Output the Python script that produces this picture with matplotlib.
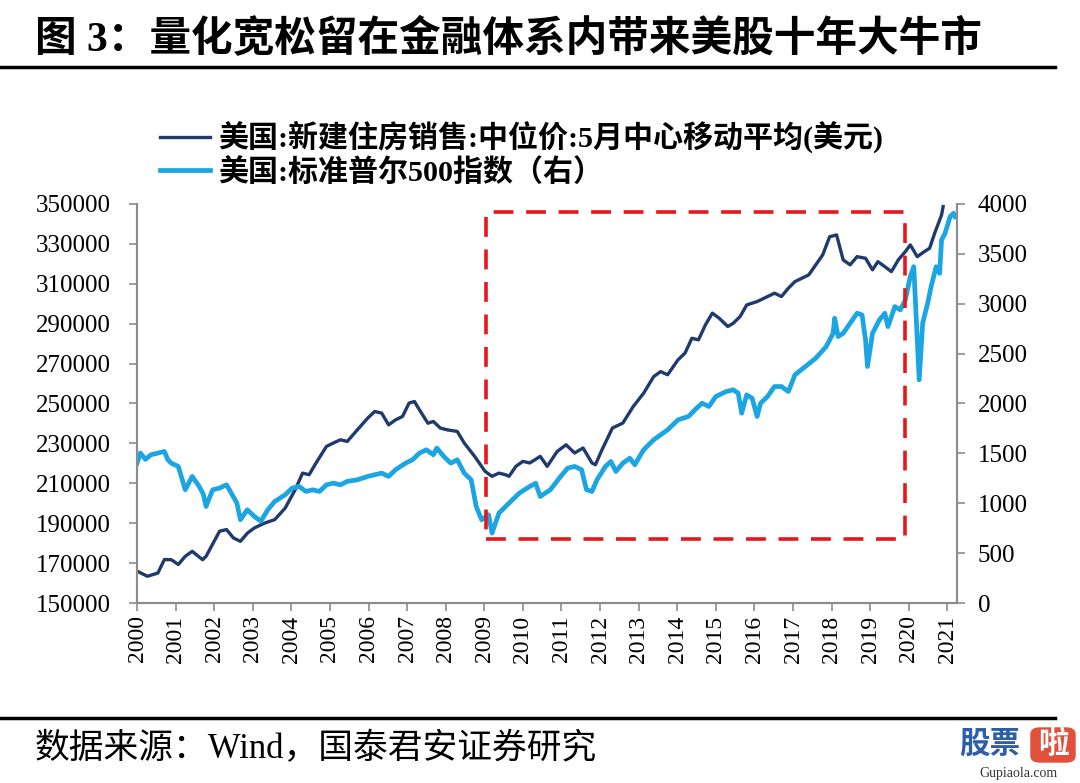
import matplotlib.pyplot as plt
from matplotlib.lines import Line2D
from matplotlib.patches import Rectangle, FancyBboxPatch

# 美国新建住房销售中位价 (5月中心移动平均, 美元), 年份为小数年
house_x = [2000.0, 2000.27, 2000.54, 2000.71, 2000.89, 2001.07, 2001.25, 2001.43, 2001.7, 2001.79,
           2002.14, 2002.32, 2002.5, 2002.68, 2002.86, 2003.04, 2003.3, 2003.57, 2003.84, 2004.1,
           2004.29, 2004.46, 2004.64, 2004.91, 2005.09, 2005.27, 2005.45, 2005.71, 2005.98, 2006.16,
           2006.34, 2006.52, 2006.7, 2006.88, 2007.05, 2007.19, 2007.32, 2007.54, 2007.68, 2007.86,
           2008.04, 2008.3, 2008.48, 2008.75, 2009.02, 2009.2, 2009.38, 2009.55, 2009.64, 2009.82,
           2010.0, 2010.18, 2010.45, 2010.63, 2010.89, 2011.12, 2011.34, 2011.56, 2011.79, 2011.88,
           2012.05, 2012.32, 2012.59, 2012.86, 2013.13, 2013.39, 2013.57, 2013.75, 2014.02, 2014.2,
           2014.38, 2014.55, 2014.73, 2014.91, 2015.09, 2015.31, 2015.45, 2015.63, 2015.8, 2016.07,
           2016.34, 2016.52, 2016.7, 2016.88, 2017.05, 2017.23, 2017.41, 2017.59, 2017.77, 2017.95,
           2018.13, 2018.3, 2018.48, 2018.66, 2018.88, 2019.06, 2019.2, 2019.38, 2019.55, 2019.73,
           2019.91, 2020.04, 2020.22, 2020.4, 2020.54, 2020.67, 2020.85, 2020.89]
house_y = [166000, 163400, 165000, 171800, 171700, 169300, 173400, 175900, 171700, 173400,
           186000, 186800, 182600, 180900, 185000, 187600, 190000, 191800, 197600, 206800,
           215100, 214300, 220200, 228500, 230200, 231800, 231000, 236800, 242700, 246000,
           245200, 239300, 241800, 243500, 250200, 251000, 246800, 240100, 241000, 237700,
           236800, 236000, 230200, 223500, 216000, 213500, 215100, 214300, 213500, 218500,
           221000, 220200, 223500, 218500, 226000, 229300, 225200, 227700, 220200, 219300,
           226800, 237700, 240200, 248500, 255200, 263500, 266000, 264400, 271900, 275200,
           282700, 281900, 289400, 295300, 292700, 288600, 290200, 293600, 299400, 301100,
           303600, 305300, 303600, 307800, 311100, 312800, 314500, 319500, 324500, 333600,
           334500, 322000, 319500, 323600, 322800, 317000, 321100, 318600, 316100, 322000,
           326100, 329500, 323600, 326100, 327800, 335300, 344500, 348700]

# 美国标准普尔500指数 (右轴)
spx_x = [2000.0, 2000.09, 2000.22, 2000.36, 2000.54, 2000.71, 2000.8, 2000.89, 2001.07, 2001.25,
         2001.43, 2001.61, 2001.72, 2001.79, 2001.96, 2002.14, 2002.32, 2002.59, 2002.68, 2002.86,
         2003.04, 2003.21, 2003.39, 2003.57, 2003.84, 2004.02, 2004.2, 2004.38, 2004.55, 2004.73,
         2004.91, 2005.09, 2005.27, 2005.45, 2005.71, 2005.98, 2006.16, 2006.34, 2006.52, 2006.7,
         2006.96, 2007.14, 2007.32, 2007.5, 2007.68, 2007.77, 2007.95, 2008.13, 2008.3, 2008.48,
         2008.66, 2008.79, 2008.93, 2009.11, 2009.2, 2009.38, 2009.64, 2009.91, 2010.18, 2010.33,
         2010.45, 2010.71, 2010.98, 2011.16, 2011.34, 2011.52, 2011.65, 2011.79, 2011.92, 2012.14,
         2012.28, 2012.41, 2012.59, 2012.77, 2012.9, 2013.13, 2013.39, 2013.57, 2013.75, 2014.02,
         2014.29, 2014.46, 2014.64, 2014.82, 2015.0, 2015.27, 2015.45, 2015.58, 2015.67, 2015.8,
         2015.94, 2016.07, 2016.16, 2016.34, 2016.52, 2016.7, 2016.88, 2017.05, 2017.32, 2017.59,
         2017.86, 2018.04, 2018.08, 2018.17, 2018.3, 2018.48, 2018.66, 2018.79, 2018.88, 2018.93,
         2019.06, 2019.24, 2019.38, 2019.46, 2019.64, 2019.78, 2019.91, 2020.04, 2020.13, 2020.2,
         2020.27, 2020.36, 2020.49, 2020.58, 2020.71, 2020.8, 2020.85, 2020.94, 2021.07, 2021.16,
         2021.2]
spx_y = [1402, 1503, 1440, 1486, 1503, 1519, 1436, 1402, 1369, 1135,
         1269, 1169, 1090, 968, 1135, 1152, 1185, 1001, 835, 935,
         868, 820, 935, 1018, 1085, 1152, 1169, 1118, 1135, 1118,
         1185, 1202, 1185, 1219, 1235, 1269, 1286, 1302, 1269, 1336,
         1402, 1436, 1503, 1536, 1486, 1553, 1469, 1402, 1436, 1302,
         1235, 968, 835, 885, 701, 901, 1001, 1102, 1169, 1200,
         1068, 1135, 1269, 1352, 1369, 1336, 1135, 1118, 1235, 1369,
         1419, 1319, 1402, 1452, 1386, 1536, 1636, 1686, 1736, 1836,
         1870, 1937, 2003, 1970, 2070, 2120, 2137, 2103, 1903, 2087,
         2053, 1870, 2003, 2070, 2170, 2170, 2120, 2287, 2371, 2454,
         2571, 2704, 2855, 2671, 2704, 2805, 2905, 2888, 2638, 2371,
         2704, 2838, 2905, 2771, 2972, 2938, 3038, 3272, 3372, 2805,
         2237, 2805, 3005, 3172, 3372, 3305, 3639, 3706, 3873, 3907,
         3873]

years = list(range(2000, 2022))
box_x = [2009.05, 2019.9]
box_y = [182000, 345800]

NAVY = "#1F3B6E"
SKY = "#1BA6E3"
RED = "#E8161C"
GRAY = "#8C8C8C"
LATIN_CJK = ["Liberation Serif", "Noto Sans CJK SC"]

plt.rcParams["font.family"] = LATIN_CJK

fig = plt.figure(figsize=(10.8, 7.83), dpi=100)
ax = fig.add_axes([137 / 1080, 1 - 603 / 783, 820 / 1080, 399 / 783])
ax2 = ax.twinx()

l1, = ax.plot(house_x, house_y, color=NAVY, lw=2.4, solid_joinstyle="round")
l2, = ax2.plot(spx_x, spx_y, color=SKY, lw=3.4, solid_joinstyle="round")

ax.set_xlim(2000, 2021.25)
ax.set_ylim(150000, 350000)
ax2.set_ylim(0, 4000)
ax.set_yticks(range(150000, 350001, 20000))
ax2.set_yticks(range(0, 4001, 500))
ax.set_xticks(years)
ax.set_xticklabels([str(y) for y in years], rotation=90)

for a in (ax, ax2):
    for side in ("left", "right", "bottom"):
        a.spines[side].set_color(GRAY)
        a.spines[side].set_linewidth(1.5)
    a.spines["top"].set_visible(False)
    a.tick_params(axis="both", colors=GRAY, length=6, width=1.2, labelcolor="black",
                  labelsize=18, direction="out")
ax.tick_params(axis="x", labelsize=17, pad=3)
ax.tick_params(axis="y", pad=13)
ax2.tick_params(axis="y", pad=9)

# 红色虚线框
rect = Rectangle((box_x[0], box_y[0]), box_x[1] - box_x[0], box_y[1] - box_y[0],
                 transform=ax.transData, fill=False, edgecolor=RED, lw=2.6,
                 linestyle=(0, (5.5, 3.5)), zorder=5, clip_on=False)
ax2.add_patch(rect)

fig.legend([l1, l2], ["美国:新建住房销售:中位价:5月中心移动平均(美元)", "美国:标准普尔500指数（右）"],
           loc="center left", bbox_to_anchor=(148 / 1080, 1 - 154 / 783), frameon=False,
           handlelength=1.65, handletextpad=0.3, labelspacing=0.15, borderaxespad=0,
           prop={"family": LATIN_CJK, "weight": "bold", "size": 21.6})

# 标题和横线
fig.text(35 / 1080, 1 - 40 / 783, "图 3：量化宽松留在金融体系内带来美股十年大牛市",
         fontsize=30, fontweight="bold", va="center", ha="left")
fig.add_artist(Line2D([0, 1055 / 1080], [1 - 67 / 783] * 2, color="black", lw=2.5))
fig.add_artist(Line2D([0, 1055 / 1080], [1 - 718 / 783] * 2, color="black", lw=2.5))

fig.text(35 / 1080, 1 - 750 / 783, "数据来源：Wind，国泰君安证券研究",
         fontsize=25, va="center", ha="left")

# 水印
fig.text(990 / 1080, 1 - 745 / 783, "股票", fontsize=22, fontweight="bold",
         color="#2D5FA8", ha="center", va="center")
fig.add_artist(FancyBboxPatch((1031 / 1080, 1 - 762 / 783), 44 / 1080, 34 / 783,
                              boxstyle="round,pad=0,rounding_size=0.008",
                              transform=fig.transFigure, color="#E0503A"))
fig.text(1053 / 1080, 1 - 745 / 783, "啦", fontsize=22, fontweight="bold",
         color="white", ha="center", va="center")
fig.text(1018 / 1080, 1 - 773 / 783, "Gupiaola.com", fontsize=10,
         color="#333333", ha="center", va="center")

fig.savefig("out.png", dpi=100)
